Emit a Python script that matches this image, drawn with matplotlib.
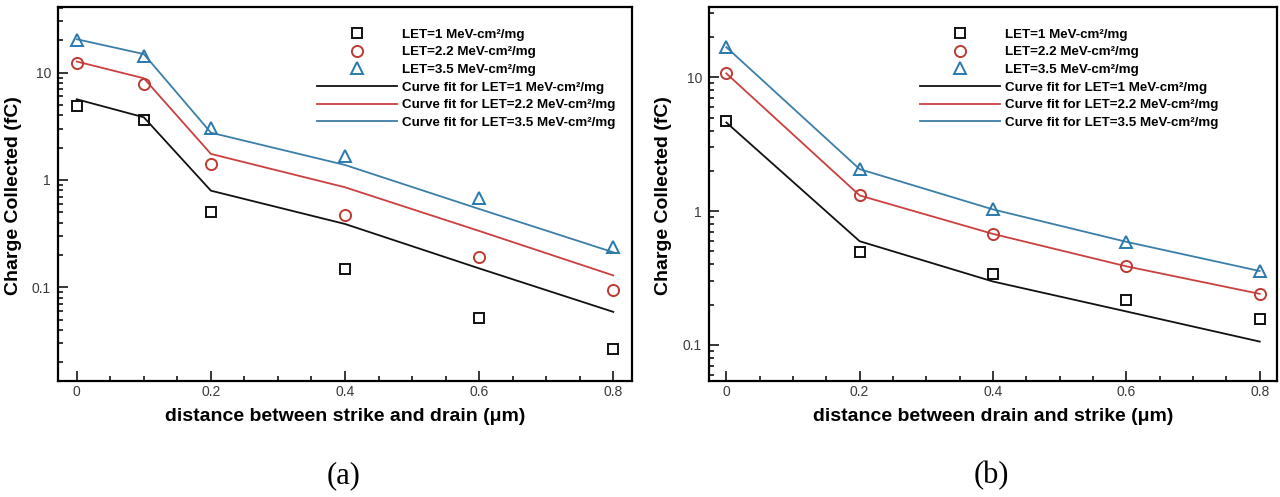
import matplotlib
matplotlib.use("Agg")
import matplotlib.pyplot as plt
from matplotlib.ticker import LogLocator, FixedLocator, MultipleLocator, NullFormatter, FuncFormatter

# ---------------- data ----------------
# panel (a)
xa = [0.0, 0.1, 0.2, 0.4, 0.6, 0.8]
a_let1 = [4.9, 3.6, 0.50, 0.147, 0.052, 0.0264]
a_let22 = [12.2, 7.85, 1.42, 0.47, 0.19, 0.094]
a_let35 = [20.2, 14.4, 3.07, 1.67, 0.675, 0.236]
a_fit1 = [5.65, 3.84, 0.795, 0.389, 0.15, 0.059]
a_fit22 = [12.7, 8.87, 1.75, 0.855, 0.335, 0.129]
a_fit35 = [20.5, 14.9, 2.76, 1.38, 0.537, 0.212]

# panel (b)
xb = [0.0, 0.2, 0.4, 0.6, 0.8]
b_let1 = [4.71, 0.493, 0.337, 0.218, 0.156]
b_let22 = [10.7, 1.31, 0.676, 0.387, 0.241]
b_let35 = [16.8, 2.08, 1.03, 0.589, 0.355]
b_fit1 = [4.6, 0.596, 0.298, 0.178, 0.106]
b_fit22 = [10.7, 1.31, 0.676, 0.387, 0.241]
b_fit35 = [16.8, 2.06, 1.03, 0.59, 0.357]

xticks = [0, 0.2, 0.4, 0.6, 0.8]
xticklabels = ["0", "0.2", "0.4", "0.6", "0.8"]
labels = ["LET=1 MeV-cm\u00b2/mg", "LET=2.2 MeV-cm\u00b2/mg", "LET=3.5 MeV-cm\u00b2/mg",
          "Curve fit for LET=1 MeV-cm\u00b2/mg", "Curve fit for LET=2.2 MeV-cm\u00b2/mg",
          "Curve fit for LET=3.5 MeV-cm\u00b2/mg"]
xlabel_a = "distance between strike and drain (\u03bcm)"
xlabel_b = "distance between drain and strike (\u03bcm)"
ylabel = "Charge Collected (fC)"

# ---------------- style ----------------
plt.rcParams['font.family'] = ['Liberation Sans', 'DejaVu Sans']
BLACK = '#111111'
RED_M = '#bf3a33'
RED_L = '#cc3f3f'
BLUE_M = '#2a79ad'
BLUE_L = '#3b7ea8'

fig = plt.figure(figsize=(12.8, 4.97), dpi=100)
ax_a = fig.add_axes([0.0453, 0.2334, 0.4485, 0.752])
ax_b = fig.add_axes([0.5539, 0.2334, 0.4438, 0.752])


def draw(ax, x, m1, m22, m35, f1, f22, f35, ylim, xlim, xlabel, legx, ylx):
    h4, = ax.plot(x, f1, color=BLACK, lw=1.3)
    h5, = ax.plot(x, f22, color=RED_L, lw=1.3)
    h6, = ax.plot(x, f35, color=BLUE_L, lw=1.3)
    h1, = ax.plot(x, m1, ls='none', marker='s', ms=7.5, mfc='none', mec=BLACK, mew=1.4)
    h2, = ax.plot(x, m22, ls='none', marker='o', ms=8, mfc='none', mec=RED_M, mew=1.4)
    h3, = ax.plot(x, m35, ls='none', marker='^', ms=8.5, mfc='none', mec=BLUE_M, mew=1.4)
    ax.set_yscale('log')
    ax.set_ylim(*ylim)
    ax.set_xlim(*xlim)
    ax.xaxis.set_major_locator(FixedLocator(xticks))
    ax.set_xticklabels(xticklabels)
    ax.xaxis.set_minor_locator(MultipleLocator(0.05))
    ax.yaxis.set_major_locator(LogLocator(base=10, numticks=10))
    ax.yaxis.set_minor_locator(LogLocator(base=10, subs=range(2, 10), numticks=20))
    ax.yaxis.set_minor_formatter(NullFormatter())
    ax.yaxis.set_major_formatter(FuncFormatter(lambda v, p: ('%g' % v)))
    for s in ax.spines.values():
        s.set_linewidth(1.6)
    ax.tick_params(which='both', direction='in', top=False, right=False,
                   labelsize=10, labelcolor='#3a3a3a', width=1.1)
    ax.tick_params(which='major', length=7)
    ax.tick_params(which='minor', length=3.5)
    ax.tick_params(axis='y', pad=5)
    ax.tick_params(axis='x', pad=3)
    ax.set_xlabel(xlabel, fontsize=14, fontweight='bold', labelpad=6)
    ax.set_ylabel(ylabel, fontsize=14, fontweight='bold')
    ax.yaxis.set_label_coords(ylx, 0.497)
    ax.legend([h1, h2, h3, h4, h5, h6], labels, loc='upper left',
              bbox_to_anchor=(legx, 0.944), frameon=False, borderpad=0,
              borderaxespad=0, handlelength=6.0, handletextpad=0.42,
              labelspacing=0.4, prop={'weight': 'bold', 'size': 9.6})


draw(ax_a, xa, a_let1, a_let22, a_let35, a_fit1, a_fit22, a_fit35,
     (0.01339, 40.7), (-0.028, 0.828), xlabel_a, 0.451, -0.063)
draw(ax_b, xb, b_let1, b_let22, b_let35, b_fit1, b_fit22, b_fit35,
     (0.0538, 33.4), (-0.026, 0.826), xlabel_b, 0.371, -0.065)

fig.text(344 / 1280, 1 - 476 / 497, "(a)", family=['Liberation Serif', 'DejaVu Serif'],
         fontsize=22, ha='center', va='center')
fig.text(991 / 1280, 1 - 476 / 497, "(b)", family=['Liberation Serif', 'DejaVu Serif'],
         fontsize=22, ha='center', va='center')

fig.savefig("out.png", dpi=100)
